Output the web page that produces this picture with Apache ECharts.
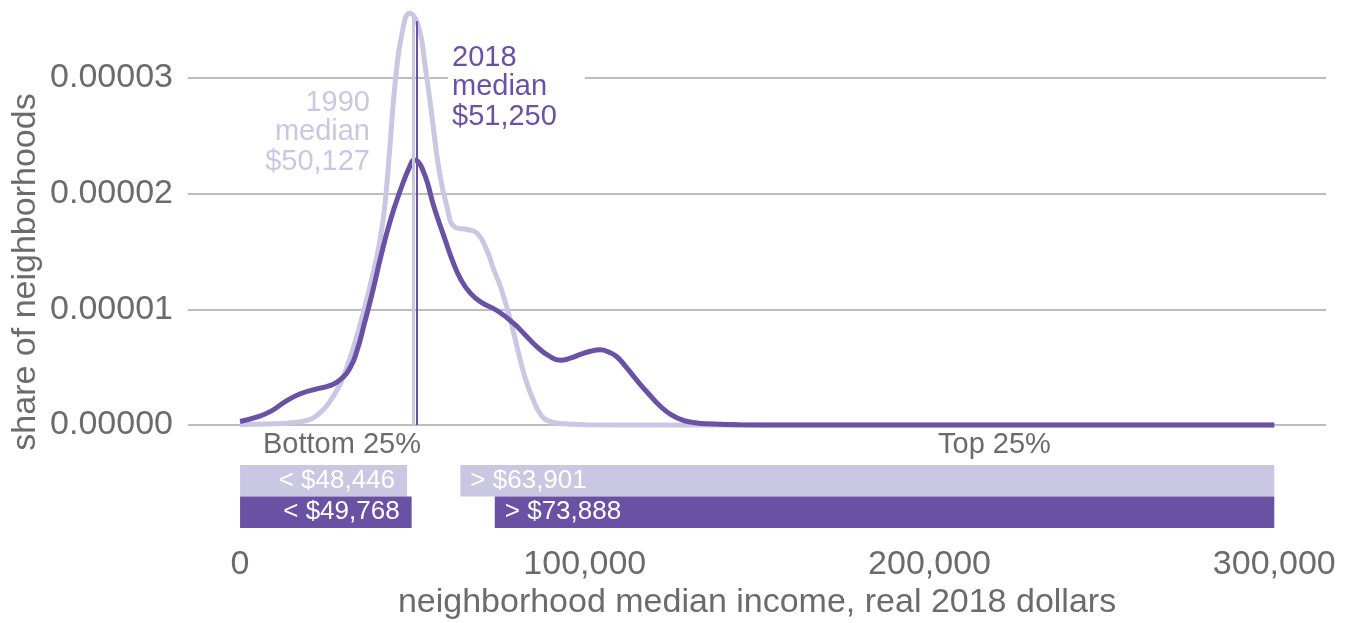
<!DOCTYPE html>
<html>
<head>
<meta charset="utf-8">
<title>neighborhood median income</title>
<script src="https://cdn.jsdelivr.net/npm/echarts@6/dist/echarts.min.js"></script>
<style>
  html, body { margin: 0; padding: 0; background: #fff; }
  #chart { width: 1348px; height: 623px; }
</style>
</head>
<body>
<div id="chart"></div>
<script>
// density curves
var income1990 = [0, 10000, 15000, 19400, 23000, 26000, 29000, 31000, 33500, 36000, 38500, 40500, 42000, 43400, 45000, 47000, 49200, 51800, 53700, 55700, 57600, 60000, 62400, 65800, 68700, 71600, 73500, 75500, 78400, 81300, 83000, 85000, 87000, 89000, 93800, 100000, 120000, 300000];
var density1990 = [0.05e-6, 0.1e-6, 0.2e-6, 0.4e-6, 1.0e-6, 2.0e-6, 3.5e-6, 5.0e-6, 7.3e-6, 10.0e-6, 13.0e-6, 15.8e-6, 19.0e-6, 23.8e-6, 29.6e-6, 33.9e-6, 35.6e-6, 34.4e-6, 31.0e-6, 26.6e-6, 22.3e-6, 18.9e-6, 17.1e-6, 16.9e-6, 16.6e-6, 15.1e-6, 13.5e-6, 12.0e-6, 9.1e-6, 5.6e-6, 3.8e-6, 2.2e-6, 1.0e-6, 0.4e-6, 0.1e-6, 0.03e-6, 0, 0];

var income2018 = [0, 5000, 9000, 13000, 17500, 22000, 26000, 29000, 32000, 34000, 36000, 38500, 40700, 43500, 46500, 49300, 50500, 51800, 53200, 54500, 56100, 59500, 61500, 64000, 66800, 70000, 74500, 79300, 83000, 86000, 89500, 92900, 96000, 98700, 102000, 104500, 107000, 109300, 112000, 115000, 118500, 122000, 125000, 128600, 132000, 136000, 145000, 160000, 300000];
var density2018 = [0.3e-6, 0.7e-6, 1.2e-6, 2.0e-6, 2.7e-6, 3.1e-6, 3.4e-6, 3.9e-6, 5.0e-6, 6.5e-6, 8.7e-6, 11.6e-6, 14.4e-6, 17.6e-6, 20.3e-6, 22.4e-6, 22.9e-6, 22.7e-6, 21.9e-6, 20.8e-6, 19.0e-6, 16.0e-6, 14.3e-6, 12.6e-6, 11.4e-6, 10.6e-6, 9.9e-6, 8.8e-6, 7.7e-6, 6.8e-6, 6.0e-6, 5.6e-6, 5.8e-6, 6.1e-6, 6.4e-6, 6.5e-6, 6.3e-6, 5.9e-6, 5.0e-6, 3.9e-6, 2.7e-6, 1.6e-6, 0.9e-6, 0.4e-6, 0.2e-6, 0.1e-6, 0.02e-6, 0, 0];

var years = ['1990', '2018'];
var medians = [50127, 51250];
var bottom25 = [48446, 49768];   // upper edge of bottom quartile
var top25 = [63901, 73888];      // lower edge of top quartile
var incomeMax = 300000;
var xTicks = [0, 100000, 200000, 300000];

var light = '#c9c7e1';
var dark = '#6a51a3';
var grey = '#6b6b6b';
var font = '"Liberation Sans", Arial, sans-serif';

function pairs(xs, ys) {
    return xs.map(function(x, i) { return [x, ys[i]]; });
}
function money(v) {
    return '$' + v.toLocaleString('en-US');
}

var chart = echarts.init(document.getElementById('chart'));

var option = {
    animation: false,
    textStyle: { fontFamily: font },
    grid: [
        { left: 188, right: 22, top: 8.6, bottom: 198 },
        { left: 188, right: 22, top: 465, bottom: 95 }
    ],
    xAxis: [{
        gridIndex: 0, type: 'value', min: -15100, max: 315000, show: false
    }, {
        gridIndex: 1, type: 'value', min: -15100, max: 315000,
        name: 'neighborhood median income, real 2018 dollars',
        nameLocation: 'middle', nameGap: 58,
        nameTextStyle: { color: grey, fontSize: 34, fontFamily: font },
        axisLine: { show: false }, axisTick: { show: false }, splitLine: { show: false },
        axisLabel: {
            customValues: xTicks, color: grey, fontSize: 34, fontFamily: font, margin: 20,
            formatter: function(v) { return v.toLocaleString('en-US'); }
        }
    }],
    yAxis: [{
        gridIndex: 0, type: 'value', min: 0, max: 0.000036, interval: 0.00001,
        axisLine: { show: false }, axisTick: { show: false },
        splitLine: { show: true, showMaxLine: false, lineStyle: { color: '#bdbdbd', width: 2 } },
        axisLabel: {
            color: grey, fontSize: 34, fontFamily: font, margin: 15, showMaxLabel: false,
            formatter: function(v) { return v.toFixed(5); }
        }
    }, {
        gridIndex: 1, type: 'category', data: years, inverse: true, show: false
    }],
    series: [{
        name: '1990', type: 'line', data: pairs(income1990, density1990),
        smooth: 0.5, showSymbol: false, clip: false, z: 2,
        lineStyle: { color: light, width: 5 },
        markLine: {
            symbol: 'none', silent: true, label: { show: false },
            lineStyle: { color: light, width: 3, type: 'solid' },
            data: [[{ coord: [medians[0], 0] }, { coord: [medians[0], 0.0000352] }]]
        }
    }, {
        name: '2018', type: 'line', data: pairs(income2018, density2018),
        smooth: 0.5, showSymbol: false, clip: false, z: 3,
        lineStyle: { color: dark, width: 5 },
        markLine: {
            symbol: 'none', silent: true, label: { show: false },
            lineStyle: { color: dark, width: 2, type: 'solid' },
            data: [[{ coord: [medians[1], 0] }, { coord: [medians[1], 0.0000349] }]]
        }
    }, {
        name: 'bottom', type: 'bar', xAxisIndex: 1, yAxisIndex: 1, stack: 'q',
        barCategoryGap: '0%',
        data: bottom25.map(function(v, i) {
            return { value: v, itemStyle: { color: i ? dark : light } };
        }),
        label: {
            show: true, position: 'insideRight', distance: 12, color: '#fff',
            fontSize: 26, fontFamily: font,
            formatter: function(p) { return '< ' + money(p.value); }
        }
    }, {
        name: 'gap', type: 'bar', xAxisIndex: 1, yAxisIndex: 1, stack: 'q', silent: true,
        barCategoryGap: '0%',
        data: top25.map(function(v, i) { return v - bottom25[i]; }),
        itemStyle: { color: 'rgba(0,0,0,0)' }
    }, {
        name: 'top', type: 'bar', xAxisIndex: 1, yAxisIndex: 1, stack: 'q',
        barCategoryGap: '0%',
        data: top25.map(function(v, i) {
            return { value: incomeMax - v, itemStyle: { color: i ? dark : light } };
        }),
        label: {
            show: true, position: 'insideLeft', distance: 10, color: '#fff',
            fontSize: 26, fontFamily: font,
            formatter: function(p) { return '> ' + money(top25[p.dataIndex]); }
        }
    }],
    graphic: [{
        type: 'text', x: 448, y: 41, z: 10,
        style: {
            text: years[1] + '\nmedian\n' + money(medians[1]),
            fill: dark, fontSize: 29, fontFamily: font, lineHeight: 29.5,
            backgroundColor: '#fff', padding: [2, 28, 2, 4]
        }
    }, {
        type: 'text', x: 370, y: 88, z: 10,
        style: {
            text: years[0] + '\nmedian\n' + money(medians[0]),
            fill: light, fontSize: 29, fontFamily: font, lineHeight: 29.5, align: 'right'
        }
    }, {
        type: 'text', x: 263, y: 445, z: 10,
        style: { text: 'Bottom 25%', fill: grey, fontSize: 29, fontFamily: font, verticalAlign: 'middle' }
    }, {
        type: 'text', x: 938, y: 445, z: 10,
        style: { text: 'Top 25%', fill: grey, fontSize: 29, fontFamily: font, verticalAlign: 'middle' }
    }, {
        type: 'text', x: 26, y: 272, rotation: Math.PI / 2, z: 10,
        style: {
            text: 'share of neighborhoods', fill: grey, fontSize: 34, fontFamily: font,
            align: 'center', verticalAlign: 'middle'
        }
    }]
};

chart.setOption(option);
</script>
</body>
</html>
